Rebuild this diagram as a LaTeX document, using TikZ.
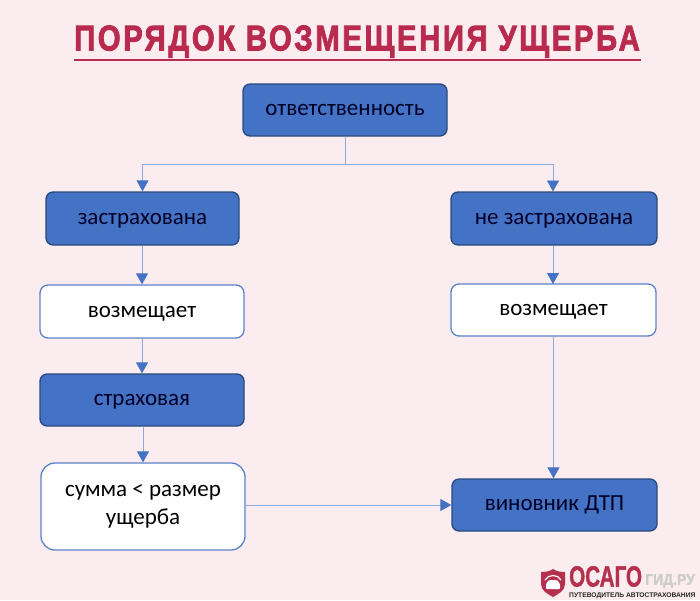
\documentclass[tikz,border=0pt]{standalone}
\usepackage{fontspec}
\setmainfont{Carlito}
\newfontfamily\titlefont[LetterSpace=9,FakeBold=2.6]{Liberation Sans}
\newfontfamily\logofont[FakeBold=1.5]{Liberation Sans}
\newfontfamily\tagfont{Liberation Sans}
\usetikzlibrary{arrows.meta,calc}
\definecolor{bgpink}{HTML}{FBEDEF}
\definecolor{boxblue}{HTML}{4472C4}
\definecolor{darkedge}{HTML}{2A4A7E}
\definecolor{midedge}{HTML}{5B82C8}
\definecolor{linkcol}{HTML}{8FAADC}
\definecolor{titlered}{HTML}{B82A4E}
\definecolor{logored}{HTML}{B5304F}
\tikzset{
  bluebox/.style={draw=darkedge,line width=1.3pt,fill=boxblue,rounded corners=7pt,text=black!85!blue,
    font=\fontsize{23}{27}\selectfont,align=center,inner sep=0pt},
  whitebox/.style={draw=midedge,line width=1.3pt,fill=white,rounded corners=8pt,text=black,
    font=\fontsize{23}{27}\selectfont,align=center,inner sep=0pt},
  oneline/.style={text height=15pt,text depth=4pt},
  bigwhite/.style={whitebox,rounded corners=14pt},
  link/.style={draw=linkcol,line width=0.9pt},
  arrowlink/.style={link,-{Triangle[length=11pt,width=12pt,color=boxblue]}},
}
\newcommand{\pbox}[7]{% style,name,x1,y1,x2,y2,text
  \node[#1,minimum width={(#5-#3)*1pt},minimum height={(#6-#4)*1pt}] (#2) at ({(#3+#5)/2},{(#4+#6)/2}) {#7};}
\begin{document}
\begin{tikzpicture}[x=1pt,y=-1pt]
\useasboundingbox (0,0) rectangle (700,600);
\fill[bgpink] (0,0) rectangle (700,600);
% title
\node[text=titlered,font=\titlefont\bfseries\fontsize{32}{36}\selectfont,inner sep=0pt,xscale=0.915,yscale=1.12] (title) at (357,41.5) {ПОРЯДОК ВОЗМЕЩЕНИЯ УЩЕРБА};
\coordinate (ruleA) at (74,60);
\coordinate (ruleB) at (641,60);
\draw[titlered,line width=2pt] (ruleA) -- (ruleB);
% boxes
\pbox{bluebox,oneline}{resp}{243}{84}{447}{136}{ответственность}
\pbox{bluebox,oneline}{ins}{46}{192}{239}{245}{застрахована}
\pbox{bluebox,oneline}{noins}{451}{192}{657}{245}{не застрахована}
\pbox{whitebox,oneline}{compL}{40}{285}{244}{338}{возмещает}
\pbox{whitebox,oneline}{compR}{451}{284}{656}{336}{возмещает}
\pbox{bluebox,oneline}{insco}{40}{374}{244}{426}{страховая}
\pbox{bigwhite}{sum}{41}{463}{245}{550}{сумма < размер\\[1.5pt]ущерба}
\pbox{bluebox,oneline}{culprit}{452}{479}{657}{531}{виновник ДТП}
% connectors
\coordinate (junction) at (345,164);
\draw[link] (resp.south) -- (junction);
\draw[arrowlink] (junction) -| (ins.north);
\draw[arrowlink] (junction) -| (553,191.5);
\draw[arrowlink] (ins.south -| compL.north) -- (compL.north);
\draw[arrowlink] (compL.south) -- (insco.north);
\draw[arrowlink] (insco.south -| sum.north) -- (sum.north);
\draw[arrowlink] (noins.south -| 553,0) -- (553,284);
\draw[arrowlink] (compR.south) -- (compR.south |- culprit.north);
\draw[arrowlink] (culprit.west -| sum.east) -- (culprit.west);
% logo
\fill[logored] (553,569) .. controls (548,572) and (545,572) .. (541,572) -- (541,584) .. controls (541,591) and (548,594) .. (553,597) .. controls (558,594) and (565,591) .. (565,584) -- (565,572) .. controls (561,572) and (558,572) .. (553,569) -- cycle;
\draw[white,line width=1.2pt] (545,580) .. controls (548,574) and (558,574) .. (561,580);
\fill[white,rounded corners=1pt] (546,589) -- (546,584) -- (549,580) -- (557,580) -- (560,584) -- (560,589) -- cycle;
\node[anchor=west,inner sep=0pt,text=logored,font=\logofont\bfseries\fontsize{24}{24}\selectfont,xscale=0.86,yscale=1.22] (osago) at (569,576.5) {ОСАГО};
\node[anchor=west,inner sep=0pt,text=black!20,font=\logofont\bfseries\fontsize{14}{15}\selectfont,yscale=1.1] (gid) at (645,581) {ГИД.РУ};
\node[anchor=west,inner sep=0pt,text=black!85,font=\tagfont\bfseries\fontsize{6.7}{7}\selectfont] (tag) at (569,596) {ПУТЕВОДИТЕЛЬ АВТОСТРАХОВАНИЯ};
\end{tikzpicture}
\end{document}
